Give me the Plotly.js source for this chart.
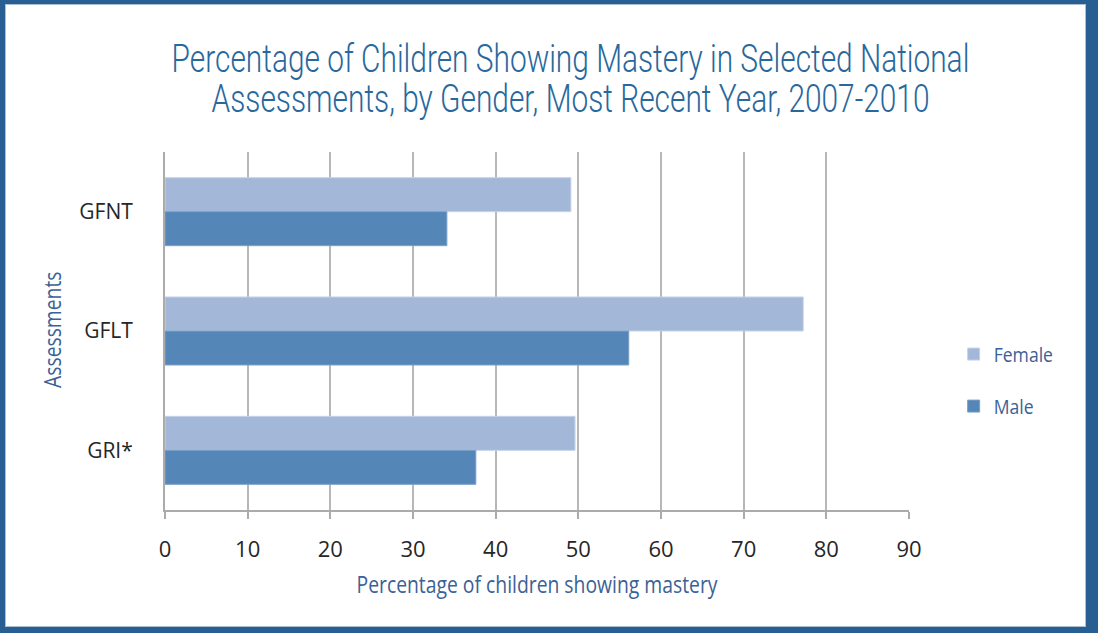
<!DOCTYPE html>
<html>
<head>
<meta charset="utf-8">
<script src="https://cdn.plot.ly/plotly-3.0.1.min.js"></script>
<style>
  html, body { margin: 0; padding: 0; background: #ffffff; }
  #wrap { position: relative; width: 1108px; height: 639px; overflow: hidden; }
  #chart { position: absolute; left: 0; top: 0; width: 1108px; height: 639px; }
  #frame {
    position: absolute; left: 0; top: 0; width: 1081px; height: 623px;
    border-left: 5px solid #285e91; border-top: 4px solid #285e91;
    border-right: 12px solid #285e91; border-bottom: 6px solid #285e91;
    pointer-events: none;
  }
  #inner {
    position: absolute; left: 5px; top: 4px; width: 1079px; height: 621px;
    border: 1px solid #a9c0d8; pointer-events: none;
  }
</style>
</head>
<body>
<div id="wrap">
  <div id="chart"></div>
  <div id="frame"></div>
  <div id="inner"></div>
</div>
<script>
const categories = ["GFNT", "GFLT", "GRI*"];
const femaleValues = [49.1, 77.2, 49.6];
const maleValues = [34.1, 56.1, 37.6];
const xTicks = [0, 10, 20, 30, 40, 50, 60, 70, 80, 90];

const titleFont = "Roboto, 'Liberation Sans', sans-serif";
const labelFont = "'Open Sans', Lato, sans-serif";

const traces = [
  {
    type: "bar", orientation: "h", name: "Female",
    y: categories, x: femaleValues,
    marker: { color: "#a3b7d8", line: { color: "#c5d3e8", width: 1 } },
    legendgroup: "f", hoverinfo: "x+name"
  },
  {
    type: "bar", orientation: "h", name: "Male",
    y: categories, x: maleValues,
    marker: { color: "#5487b8", line: { color: "#7ba1c9", width: 1 } },
    legendgroup: "m", hoverinfo: "x+name"
  }
];

const layout = {
  width: 1108, height: 639,
  paper_bgcolor: "#ffffff", plot_bgcolor: "#ffffff",
  margin: { l: 165, r: 199, t: 152, b: 129 },
  barmode: "group", bargap: 0.43, bargroupgap: 0,
  title: {
    text: "Percentage of Children Showing Mastery in Selected National<br>Assessments, by Gender, Most Recent Year, 2007-2010",
    font: { family: titleFont, size: 39, weight: 300, color: "#28689c" },
    xref: "paper", x: 0.545, xanchor: "center",
    yref: "container", y: 0.887, yanchor: "top"
  },
  xaxis: {
    range: [0, 90], tickvals: xTicks, ticktext: xTicks.map(String),
    showgrid: true, gridcolor: "#b7b7b7", gridwidth: 2,
    showline: true, linecolor: "#ababab", linewidth: 2,
    ticks: "outside", ticklen: 7, tickcolor: "#ababab", tickwidth: 2,
    ticklabelstandoff: 12,
    tickfont: { family: labelFont, size: 22, color: "#262626" },
    zeroline: false, fixedrange: true,
    title: {
      text: "Percentage of children showing mastery",
      font: { family: labelFont, size: 24, color: "#3b6296" },
      standoff: 14
    }
  },
  yaxis: {
    type: "category", categoryorder: "array", categoryarray: categories,
    autorange: "reversed",
    showgrid: false, showline: true, linecolor: "#ababab", linewidth: 2,
    ticks: "", ticklabelstandoff: 26,
    tickfont: { family: labelFont, size: 21, color: "#262626" },
    fixedrange: true
  },
  annotations: [{
    text: "Assessments", xref: "paper", yref: "paper",
    x: -0.152, y: 0.505, xanchor: "center", yanchor: "middle",
    textangle: -90, showarrow: false,
    font: { family: labelFont, size: 23, color: "#3b6296" }
  }],
  legend: {
    x: 1.06, xanchor: "left", y: 0.49, yanchor: "top",
    traceorder: "grouped", tracegroupgap: 23,
    font: { family: labelFont, size: 20, color: "#3b6296" },
    bgcolor: "rgba(0,0,0,0)", itemwidth: 30
  },
  showlegend: true
};

function condense(nodes, factor, origin) {
  nodes.forEach(function (el) {
    el.style.transformBox = "fill-box";
    el.style.transformOrigin = origin;
    el.style.transform = "scaleX(" + factor + ")";
  });
}

Plotly.newPlot("chart", traces, layout, { displayModeBar: false, staticPlot: true }).then(function (gd) {
  // title: condensed face with tighter line spacing
  const title = gd.querySelector(".gtitle");
  if (title) {
    const lines = title.querySelectorAll("tspan.line");
    if (lines.length > 1) lines[1].setAttribute("dy", "1.03em");
    condense([title], 0.766, "center top");
  }
  condense(Array.from(gd.querySelectorAll(".xtitle")), 0.806, "center center");
  condense(Array.from(gd.querySelectorAll(".annotation-text")), 0.84, "center center");
  condense(Array.from(gd.querySelectorAll(".legendtext")), 0.88, "left center");
});
</script>
</body>
</html>
